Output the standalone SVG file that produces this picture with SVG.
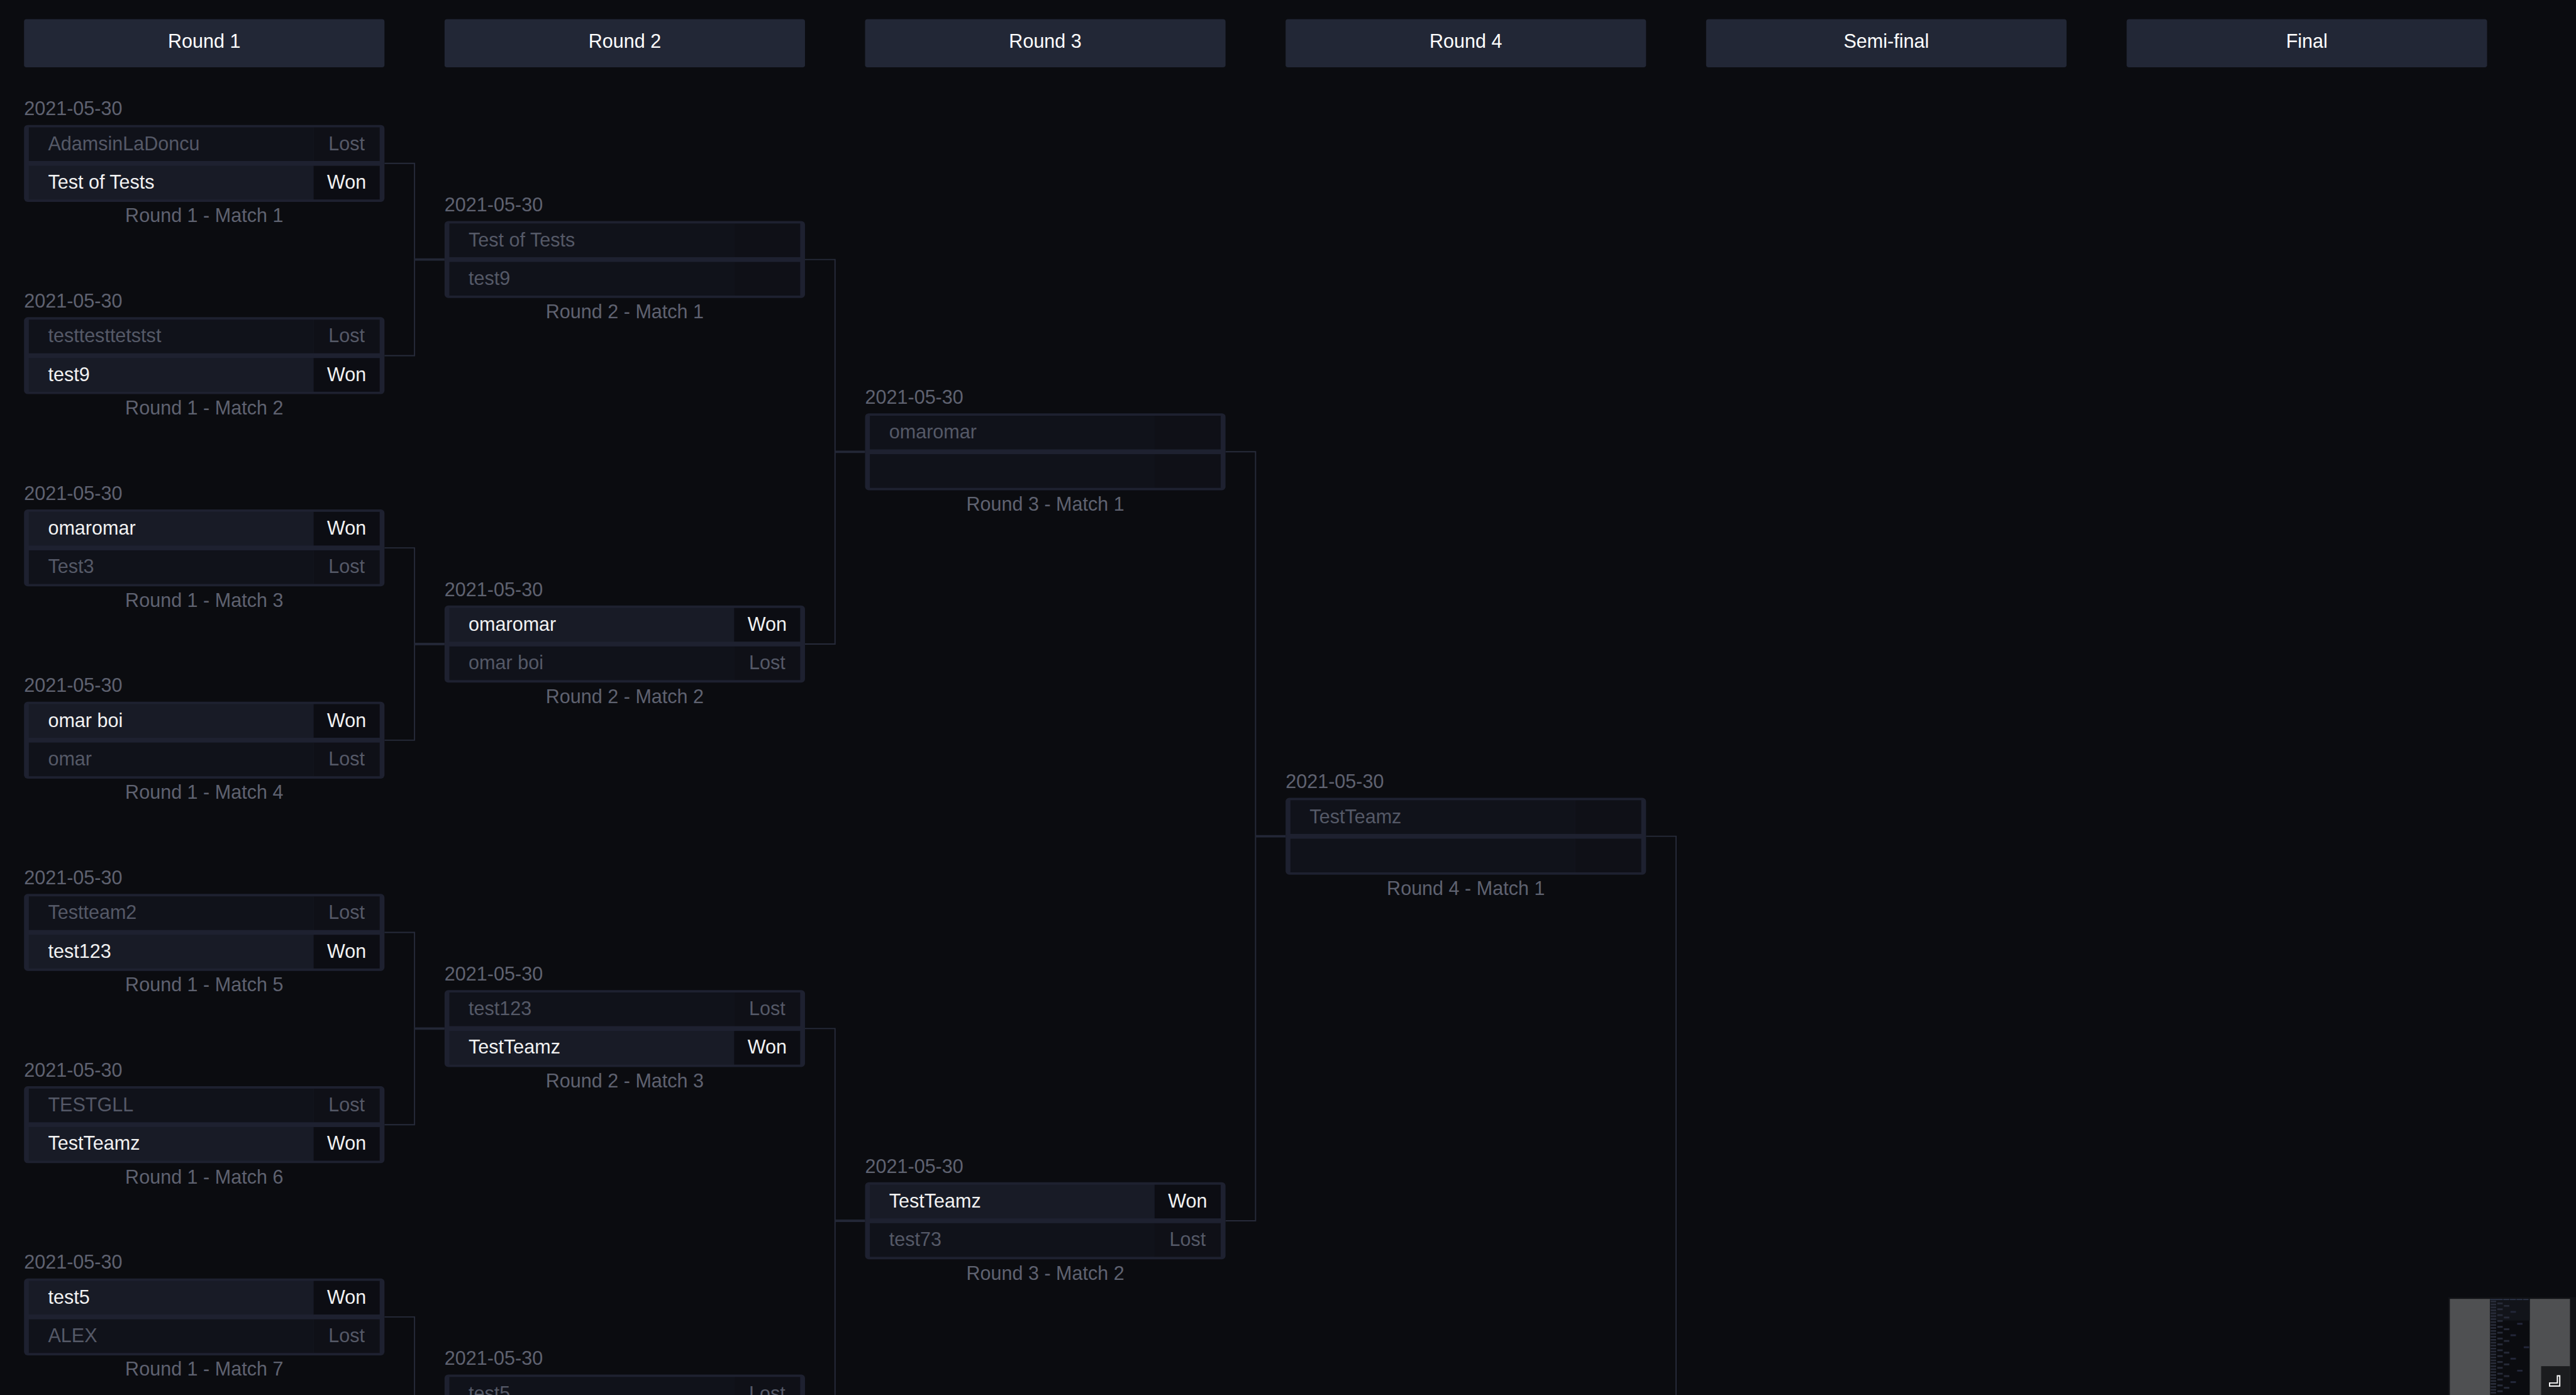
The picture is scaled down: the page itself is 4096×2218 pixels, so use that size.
<svg xmlns="http://www.w3.org/2000/svg" xmlns:xlink="http://www.w3.org/1999/xlink" width="4096" height="2218" viewBox="0 0 4096 2218">
<style>
text{font-family:"Liberation Sans",Arial,sans-serif;font-size:32px}
.hdr{fill:#222736}
.hdrt{fill:#ffffff;text-anchor:middle}
.date{fill:#5f6270}
.lbl{fill:#5f6270;text-anchor:middle}
.frame{fill:#1e2130}
.nw{fill:#181b26}
.nl{fill:#10121a}
.sw{fill:#0c0d13}
.sl{fill:#0f1017}
.tw{fill:#f2f2f2}
.tl{fill:#555967}
.sc{text-anchor:middle}
.conn{stroke:#272b3a;stroke-width:2;fill:none}
.connin{stroke:#232736;stroke-width:4;fill:none}
</style>
<defs>
<pattern id="p1" x="4146" y="2165" width="9" height="4.9" patternUnits="userSpaceOnUse"><rect width="9" height="2.6" fill="#2a2e3c"/></pattern>
<pattern id="p2" x="4157" y="2168" width="9" height="9.75" patternUnits="userSpaceOnUse"><rect width="9" height="3" fill="#262a38"/></pattern>
<pattern id="p3" x="4168" y="2172" width="9" height="19.5" patternUnits="userSpaceOnUse"><rect width="9" height="3" fill="#262a38"/></pattern>
<pattern id="p4" x="4179" y="2182" width="9" height="39" patternUnits="userSpaceOnUse"><rect width="9" height="3" fill="#23273a"/></pattern>
</defs>
<rect width="4096" height="2218" fill="#0b0c10"/>
<g transform="scale(0.95522)">
<g id="headers">
<rect class="hdr" x="40" y="32" width="600" height="80" rx="4"/><text class="hdrt" x="340" y="80">Round 1</text>
<rect class="hdr" x="740" y="32" width="600" height="80" rx="4"/><text class="hdrt" x="1040" y="80">Round 2</text>
<rect class="hdr" x="1440" y="32" width="600" height="80" rx="4"/><text class="hdrt" x="1740" y="80">Round 3</text>
<rect class="hdr" x="2140" y="32" width="600" height="80" rx="4"/><text class="hdrt" x="2440" y="80">Round 4</text>
<rect class="hdr" x="2840" y="32" width="600" height="80" rx="4"/><text class="hdrt" x="3140" y="80">Semi-final</text>
<rect class="hdr" x="3540" y="32" width="600" height="80" rx="4"/><text class="hdrt" x="3840" y="80">Final</text>
</g>
<g id="connectors">
<path class="conn" d="M640 272H690V592H640M640 912H690V1232H640M640 1552H690V1872H640M640 2192H690V2512"/>
<path class="connin" d="M690 432H740M690 1072H740M690 1712H740"/>
<path class="conn" d="M1340 432H1390V1072H1340M1340 1712H1390V2400"/>
<path class="connin" d="M1390 752H1440M1390 2032H1440"/>
<path class="conn" d="M2040 752H2090V2032H2040"/>
<path class="connin" d="M2090 1392H2140"/>
<path class="conn" d="M2740 1392H2790V2400"/>
</g>
<g id="r1m1" transform="translate(40,208)">
<text class="date" x="0" y="-16">2021-05-30</text>
<rect class="frame" width="600" height="128" rx="6"/>
<rect class="nl" x="8" y="4" width="474" height="56"/><rect class="sl" x="482" y="4" width="110" height="56"/>
<rect class="nw" x="8" y="68" width="474" height="56"/><rect class="sw" x="482" y="68" width="110" height="56"/>
<text class="tl" x="40" y="42">AdamsinLaDoncu</text><text class="tl sc" x="537" y="42">Lost</text>
<text class="tw" x="40" y="106">Test of Tests</text><text class="tw sc" x="537" y="106">Won</text>
<text class="lbl" x="300" y="162">Round 1 - Match 1</text>
</g>
<g id="r1m2" transform="translate(40,528)">
<text class="date" x="0" y="-16">2021-05-30</text>
<rect class="frame" width="600" height="128" rx="6"/>
<rect class="nl" x="8" y="4" width="474" height="56"/><rect class="sl" x="482" y="4" width="110" height="56"/>
<rect class="nw" x="8" y="68" width="474" height="56"/><rect class="sw" x="482" y="68" width="110" height="56"/>
<text class="tl" x="40" y="42">testtesttetstst</text><text class="tl sc" x="537" y="42">Lost</text>
<text class="tw" x="40" y="106">test9</text><text class="tw sc" x="537" y="106">Won</text>
<text class="lbl" x="300" y="162">Round 1 - Match 2</text>
</g>
<g id="r1m3" transform="translate(40,848)">
<text class="date" x="0" y="-16">2021-05-30</text>
<rect class="frame" width="600" height="128" rx="6"/>
<rect class="nw" x="8" y="4" width="474" height="56"/><rect class="sw" x="482" y="4" width="110" height="56"/>
<rect class="nl" x="8" y="68" width="474" height="56"/><rect class="sl" x="482" y="68" width="110" height="56"/>
<text class="tw" x="40" y="42">omaromar</text><text class="tw sc" x="537" y="42">Won</text>
<text class="tl" x="40" y="106">Test3</text><text class="tl sc" x="537" y="106">Lost</text>
<text class="lbl" x="300" y="162">Round 1 - Match 3</text>
</g>
<g id="r1m4" transform="translate(40,1168)">
<text class="date" x="0" y="-16">2021-05-30</text>
<rect class="frame" width="600" height="128" rx="6"/>
<rect class="nw" x="8" y="4" width="474" height="56"/><rect class="sw" x="482" y="4" width="110" height="56"/>
<rect class="nl" x="8" y="68" width="474" height="56"/><rect class="sl" x="482" y="68" width="110" height="56"/>
<text class="tw" x="40" y="42">omar boi</text><text class="tw sc" x="537" y="42">Won</text>
<text class="tl" x="40" y="106">omar</text><text class="tl sc" x="537" y="106">Lost</text>
<text class="lbl" x="300" y="162">Round 1 - Match 4</text>
</g>
<g id="r1m5" transform="translate(40,1488)">
<text class="date" x="0" y="-16">2021-05-30</text>
<rect class="frame" width="600" height="128" rx="6"/>
<rect class="nl" x="8" y="4" width="474" height="56"/><rect class="sl" x="482" y="4" width="110" height="56"/>
<rect class="nw" x="8" y="68" width="474" height="56"/><rect class="sw" x="482" y="68" width="110" height="56"/>
<text class="tl" x="40" y="42">Testteam2</text><text class="tl sc" x="537" y="42">Lost</text>
<text class="tw" x="40" y="106">test123</text><text class="tw sc" x="537" y="106">Won</text>
<text class="lbl" x="300" y="162">Round 1 - Match 5</text>
</g>
<g id="r1m6" transform="translate(40,1808)">
<text class="date" x="0" y="-16">2021-05-30</text>
<rect class="frame" width="600" height="128" rx="6"/>
<rect class="nl" x="8" y="4" width="474" height="56"/><rect class="sl" x="482" y="4" width="110" height="56"/>
<rect class="nw" x="8" y="68" width="474" height="56"/><rect class="sw" x="482" y="68" width="110" height="56"/>
<text class="tl" x="40" y="42">TESTGLL</text><text class="tl sc" x="537" y="42">Lost</text>
<text class="tw" x="40" y="106">TestTeamz</text><text class="tw sc" x="537" y="106">Won</text>
<text class="lbl" x="300" y="162">Round 1 - Match 6</text>
</g>
<g id="r1m7" transform="translate(40,2128)">
<text class="date" x="0" y="-16">2021-05-30</text>
<rect class="frame" width="600" height="128" rx="6"/>
<rect class="nw" x="8" y="4" width="474" height="56"/><rect class="sw" x="482" y="4" width="110" height="56"/>
<rect class="nl" x="8" y="68" width="474" height="56"/><rect class="sl" x="482" y="68" width="110" height="56"/>
<text class="tw" x="40" y="42">test5</text><text class="tw sc" x="537" y="42">Won</text>
<text class="tl" x="40" y="106">ALEX</text><text class="tl sc" x="537" y="106">Lost</text>
<text class="lbl" x="300" y="162">Round 1 - Match 7</text>
</g>
<g id="r2m1" transform="translate(740,368)">
<text class="date" x="0" y="-16">2021-05-30</text>
<rect class="frame" width="600" height="128" rx="6"/>
<rect class="nl" x="8" y="4" width="474" height="56"/><rect class="sl" x="482" y="4" width="110" height="56"/>
<rect class="nl" x="8" y="68" width="474" height="56"/><rect class="sl" x="482" y="68" width="110" height="56"/>
<text class="tl" x="40" y="42">Test of Tests</text>
<text class="tl" x="40" y="106">test9</text>
<text class="lbl" x="300" y="162">Round 2 - Match 1</text>
</g>
<g id="r2m2" transform="translate(740,1008)">
<text class="date" x="0" y="-16">2021-05-30</text>
<rect class="frame" width="600" height="128" rx="6"/>
<rect class="nw" x="8" y="4" width="474" height="56"/><rect class="sw" x="482" y="4" width="110" height="56"/>
<rect class="nl" x="8" y="68" width="474" height="56"/><rect class="sl" x="482" y="68" width="110" height="56"/>
<text class="tw" x="40" y="42">omaromar</text><text class="tw sc" x="537" y="42">Won</text>
<text class="tl" x="40" y="106">omar boi</text><text class="tl sc" x="537" y="106">Lost</text>
<text class="lbl" x="300" y="162">Round 2 - Match 2</text>
</g>
<g id="r2m3" transform="translate(740,1648)">
<text class="date" x="0" y="-16">2021-05-30</text>
<rect class="frame" width="600" height="128" rx="6"/>
<rect class="nl" x="8" y="4" width="474" height="56"/><rect class="sl" x="482" y="4" width="110" height="56"/>
<rect class="nw" x="8" y="68" width="474" height="56"/><rect class="sw" x="482" y="68" width="110" height="56"/>
<text class="tl" x="40" y="42">test123</text><text class="tl sc" x="537" y="42">Lost</text>
<text class="tw" x="40" y="106">TestTeamz</text><text class="tw sc" x="537" y="106">Won</text>
<text class="lbl" x="300" y="162">Round 2 - Match 3</text>
</g>
<g id="r2m4" transform="translate(740,2288)">
<text class="date" x="0" y="-16">2021-05-30</text>
<rect class="frame" width="600" height="128" rx="6"/>
<rect class="nl" x="8" y="4" width="474" height="56"/><rect class="sl" x="482" y="4" width="110" height="56"/>
<rect class="nw" x="8" y="68" width="474" height="56"/><rect class="sw" x="482" y="68" width="110" height="56"/>
<text class="tl" x="40" y="42">test5</text><text class="tl sc" x="537" y="42">Lost</text>
</g>
<g id="r3m1" transform="translate(1440,688)">
<text class="date" x="0" y="-16">2021-05-30</text>
<rect class="frame" width="600" height="128" rx="6"/>
<rect class="nl" x="8" y="4" width="474" height="56"/><rect class="sl" x="482" y="4" width="110" height="56"/>
<rect class="nl" x="8" y="68" width="474" height="56"/><rect class="sl" x="482" y="68" width="110" height="56"/>
<text class="tl" x="40" y="42">omaromar</text>
<text class="lbl" x="300" y="162">Round 3 - Match 1</text>
</g>
<g id="r3m2" transform="translate(1440,1968)">
<text class="date" x="0" y="-16">2021-05-30</text>
<rect class="frame" width="600" height="128" rx="6"/>
<rect class="nw" x="8" y="4" width="474" height="56"/><rect class="sw" x="482" y="4" width="110" height="56"/>
<rect class="nl" x="8" y="68" width="474" height="56"/><rect class="sl" x="482" y="68" width="110" height="56"/>
<text class="tw" x="40" y="42">TestTeamz</text><text class="tw sc" x="537" y="42">Won</text>
<text class="tl" x="40" y="106">test73</text><text class="tl sc" x="537" y="106">Lost</text>
<text class="lbl" x="300" y="162">Round 3 - Match 2</text>
</g>
<g id="r4m1" transform="translate(2140,1328)">
<text class="date" x="0" y="-16">2021-05-30</text>
<rect class="frame" width="600" height="128" rx="6"/>
<rect class="nl" x="8" y="4" width="474" height="56"/><rect class="sl" x="482" y="4" width="110" height="56"/>
<rect class="nl" x="8" y="68" width="474" height="56"/><rect class="sl" x="482" y="68" width="110" height="56"/>
<text class="tl" x="40" y="42">TestTeamz</text>
<text class="lbl" x="300" y="162">Round 4 - Match 1</text>
</g>
<g id="minimap">
<rect x="4075" y="2159" width="213" height="163" fill="#111216"/>
<rect x="4078" y="2162" width="200" height="160" fill="#4f5052"/>
<rect x="4145" y="2162" width="66" height="160" fill="#0b0c10"/>
<rect x="4145" y="2162" width="66" height="36" fill="#12141a"/>
<rect x="4145" y="2162" width="21" height="2" fill="#2c3446"/>
<rect x="4167" y="2162" width="10" height="2" fill="#2c3446"/>
<rect x="4178" y="2162" width="10" height="2" fill="#2c3446"/>
<rect x="4189" y="2162" width="10" height="2" fill="#2c3446"/>
<rect x="4200" y="2162" width="9" height="2" fill="#2c3446"/>
<rect x="4146" y="2165" width="9" height="157" fill="url(#p1)"/>
<rect x="4157" y="2168" width="9" height="154" fill="url(#p2)"/>
<rect x="4168" y="2172" width="9" height="150" fill="url(#p3)"/>
<rect x="4179" y="2182" width="9" height="140" fill="url(#p4)"/>
<rect x="4190" y="2202" width="9" height="3" fill="#23273a"/>
<rect x="4190" y="2280" width="9" height="3" fill="#23273a"/>
<rect x="4201" y="2241" width="9" height="3" fill="#23273a"/>
<rect x="4230" y="2274" width="48" height="48" fill="#1b1c1e"/>
<path d="M4257 2290H4261V2307H4244V2302H4257Z" fill="#1b1c1e" stroke="#ffffff" stroke-width="2"/>
</g>
</g>
</svg>
